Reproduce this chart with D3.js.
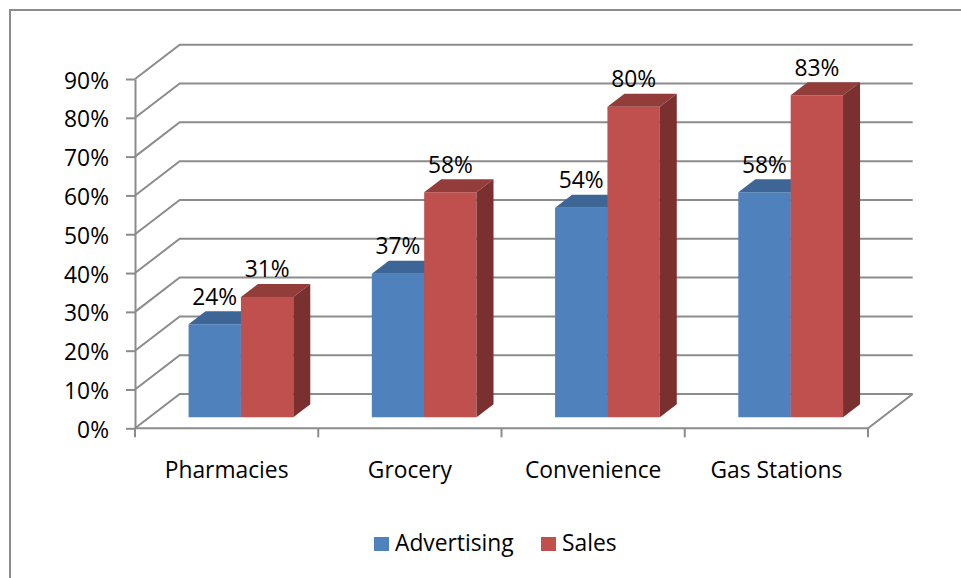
<!DOCTYPE html>
<html>
<head>
<meta charset="utf-8">
<script src="https://cdn.jsdelivr.net/npm/d3@7"></script>
<style>
  html, body { margin: 0; padding: 0; background: #fff; }
  svg { display: block; }
  text { font-family: "Open Sans", Lato, sans-serif; fill: #000; }
</style>
</head>
<body>
<svg id="chart" width="961" height="578"></svg>
<script>
// Chart data
const categories = ["Pharmacies", "Grocery", "Convenience", "Gas Stations"];
const seriesNames = ["Advertising", "Sales"];
const advertising = [24, 37, 54, 58];
const sales = [31, 58, 80, 83];
const yTicks = [0, 10, 20, 30, 40, 50, 60, 70, 80, 90];

const seriesValues = { Advertising: advertising, Sales: sales };
const colors = {
  Advertising: { front: "#4F81BD", top: "#3D6595", side: "#36587F" },
  Sales:       { front: "#C0504D", top: "#923D3A", side: "#7A302E" }
};

const svg = d3.select("#chart");
const gridColor = "#8C8C8C";
const fontFamily = "'Open Sans', Lato, sans-serif";
const fontSize = 22.8;

// Oblique 3D projection: depth vector of the whole plot box
const DX = 44.7, DY = -34.3;
const barFront = 0.32, barBack = 0.70;   // bar depth within the box (fraction)

// Front-plane scales
const x = d3.scaleBand().domain(categories).range([135, 868]).padding(0);
const x1 = d3.scaleBand().domain(seriesNames).range([0, x.bandwidth()])
  .paddingInner(0).paddingOuter(0.75);
const y = d3.scaleLinear().domain([0, 90]).range([428.3, 79]);

// Outer chart border
svg.append("rect")
  .attr("x", 10).attr("y", 10).attr("width", 1200).attr("height", 1200)
  .attr("fill", "none").attr("stroke", gridColor).attr("stroke-width", 2);

// Gridlines: left wall diagonals + back wall horizontals
const grid = svg.append("g").attr("stroke", gridColor).attr("stroke-width", 2).attr("fill", "none");
const x0 = x.range()[0], xEnd = x.range()[1];
yTicks.forEach(v => {
  grid.append("path").attr("d", d3.line()([
    [x0, y(v)], [x0 + DX, y(v) + DY], [xEnd + DX, y(v) + DY]
  ]));
});
// Floor front and right edges
grid.append("path").attr("d", d3.line()([
  [x0, y(0)], [xEnd, y(0)], [xEnd + DX, y(0) + DY]
]));

// Value axis (front left edge)
const yAxis = d3.axisLeft(y).tickValues(yTicks).tickFormat(d => d + "%")
  .tickSize(9).tickSizeOuter(0).tickPadding(17);
const gy = svg.append("g").attr("transform", `translate(${x0},0)`).call(yAxis);
gy.selectAll("path, line").attr("stroke", gridColor).attr("stroke-width", 2);
gy.selectAll("text").attr("font-size", fontSize).attr("font-family", fontFamily)
  .attr("fill", "#000").attr("dy", "0.4em");

// Category axis: boundary ticks below the floor front edge
const bounds = categories.map(c => x(c)).concat([xEnd]);
svg.append("g").selectAll("line").data(bounds).join("line")
  .attr("x1", d => d).attr("x2", d => d)
  .attr("y1", y(0)).attr("y2", y(0) + 9)
  .attr("stroke", gridColor).attr("stroke-width", 2);

const xAxis = d3.axisBottom(x).tickSize(0).tickPadding(0);
const gx = svg.append("g").attr("transform", `translate(0,${y(0)})`).call(xAxis);
gx.select(".domain").remove();
gx.selectAll("text").attr("font-size", fontSize).attr("font-family", fontFamily)
  .attr("fill", "#000").attr("dy", null).attr("y", 50);

// Bars (front face, top, side), drawn category by category, left to right
const bars = svg.append("g");
const depthX = (barBack - barFront) * DX, depthY = (barBack - barFront) * DY;
const labels = [];
categories.forEach((c, i) => {
  seriesNames.forEach(s => {
    const v = seriesValues[s][i];
    const col = colors[s];
    const xl = x(c) + x1(s) + barFront * DX;
    const xr = xl + x1.bandwidth();
    const yb = y(0) + barFront * DY;
    const yt = y(v) + barFront * DY;
    const g = bars.append("g");
    g.append("path").attr("fill", col.front)
      .attr("d", d3.line()([[xl, yb], [xr, yb], [xr, yt], [xl, yt]]) + "Z");
    g.append("path").attr("fill", col.top)
      .attr("d", d3.line()([[xl, yt], [xr, yt], [xr + depthX, yt + depthY], [xl + depthX, yt + depthY]]) + "Z");
    g.append("path").attr("fill", col.side)
      .attr("d", d3.line()([[xr, yb], [xr + depthX, yb + depthY], [xr + depthX, yt + depthY], [xr, yt]]) + "Z");
    labels.push({ x: (xl + xr) / 2, y: yt + depthY - 6.5, text: v + "%" });
  });
});

// Data labels
svg.append("g").selectAll("text").data(labels).join("text")
  .attr("x", d => d.x).attr("y", d => d.y)
  .attr("text-anchor", "middle").attr("font-size", fontSize)
  .attr("font-family", fontFamily)
  .text(d => d.text);

// Legend
const legendItems = [
  { name: "Advertising", sx: 374, tx: 395 },
  { name: "Sales", sx: 541, tx: 562 }
];
const lg = svg.append("g");
legendItems.forEach(it => {
  lg.append("rect").attr("x", it.sx).attr("y", 537).attr("width", 15).attr("height", 14)
    .attr("fill", colors[it.name].front);
  lg.append("text").attr("x", it.tx).attr("y", 551).attr("font-size", fontSize)
    .attr("font-family", fontFamily).text(it.name);
});
</script>
</body>
</html>
